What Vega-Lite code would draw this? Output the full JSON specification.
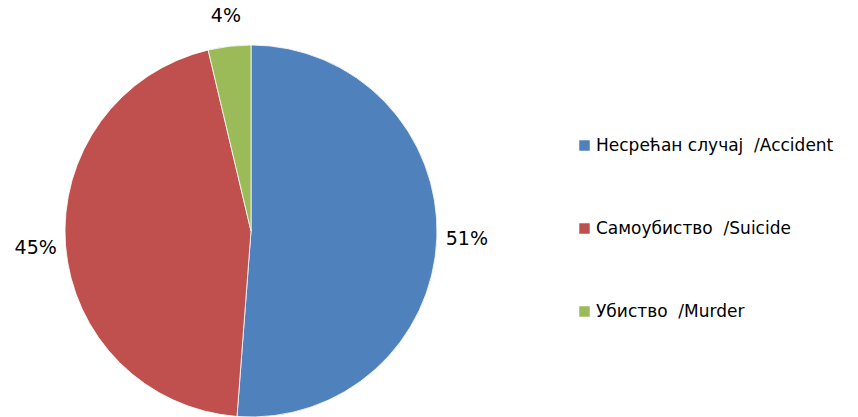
{
  "$schema": "https://vega.github.io/schema/vega-lite/v6.json",
  "width": 502,
  "height": 462,
  "autosize": {"type": "pad"},
  "padding": 0,
  "background": "white",
  "config": {"view": {"stroke": null}, "font": "DejaVu Sans"},
  "data": {
    "values": [
      {"cat": "Несрећан случај\u00a0\u00a0/Accident", "ord": 1, "share": 0.512},
      {"cat": "Самоубиство\u00a0\u00a0/Suicide", "ord": 2, "share": 0.451},
      {"cat": "Убиство\u00a0\u00a0/Murder", "ord": 3, "share": 0.037}
    ]
  },
  "encoding": {
    "theta": {"field": "share", "type": "quantitative", "stack": true},
    "order": {"field": "ord", "type": "quantitative"},
    "color": {
      "field": "cat",
      "type": "nominal",
      "sort": {"field": "ord"},
      "scale": {"range": ["#4F81BD", "#C0504D", "#9BBB59"]},
      "legend": {
        "title": null,
        "orient": "none",
        "legendX": 576,
        "legendY": 137,
        "symbolType": "square",
        "symbolSize": 110,
        "symbolStrokeWidth": 0,
        "labelFontSize": 17,
        "labelColor": "black",
        "labelFont": "DejaVu Sans",
        "labelLimit": 300,
        "labelOffset": 3,
        "rowPadding": 65
      }
    }
  },
  "layer": [
    {"mark": {"type": "arc", "outerRadius": 186, "stroke": "white", "strokeWidth": 0.8}},
    {
      "mark": {"type": "text", "radius": 216, "fontSize": 19, "color": "black", "font": "DejaVu Sans"},
      "encoding": {
        "text": {"field": "share", "type": "quantitative", "format": ".0%"},
        "color": {"value": "black"}
      }
    }
  ]
}
